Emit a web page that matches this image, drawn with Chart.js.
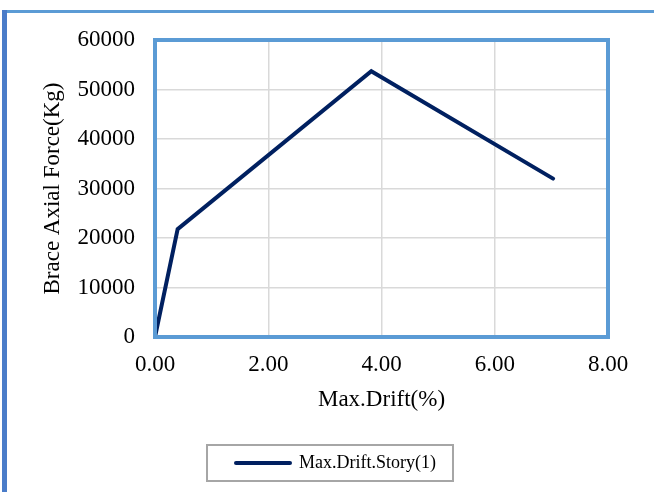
<!DOCTYPE html>
<html>
<head>
<meta charset="utf-8">
<script src="https://cdn.jsdelivr.net/npm/chart.js@4/dist/chart.umd.min.js"></script>
<style>
  html, body { margin: 0; padding: 0; background: #fff; }
  #wrap { position: relative; width: 654px; height: 492px; }
  #frame-left { position: absolute; left: 2px; top: 10px; width: 5px; height: 482px; background: #4a7cc9; }
  #frame-top { position: absolute; left: 7px; top: 10px; width: 647px; height: 3px; background: #5b9bd5; }
  canvas { position: absolute; left: 0; top: 0; }
</style>
</head>
<body>
<div id="wrap">
  <canvas id="chart" width="654" height="492"></canvas>
  <div id="frame-left"></div>
  <div id="frame-top"></div>
</div>
<script>
// datos
const driftPct   = [0, 0.40, 3.82, 7.03];
const axialForce = [0, 21800, 53700, 32000];
const seriesName = 'Max.Drift.Story(1)';
const xTicks = [0, 2, 4, 6, 8];
const yTicks = [0, 10000, 20000, 30000, 40000, 50000, 60000];

const FONT = 'Liberation Serif, Times New Roman, serif';
const NAVY = '#002060';
const BLUE = '#5b9bd5';

// borde azul alrededor del área de trazado y caja gris de la leyenda
const framePlugin = {
  id: 'frames',
  afterLayout(chart) {
    // desplazar la leyenda un poco a la derecha, como en el original
    chart.legend.left += 32;
    chart.legend.right += 32;
  },
  afterDraw(chart) {
    const { ctx, chartArea: a } = chart;
    ctx.save();
    ctx.strokeStyle = BLUE;
    ctx.lineWidth = 4;
    ctx.strokeRect(a.left, a.top, a.right - a.left, a.bottom - a.top);
    const hb = chart.legend.legendHitBoxes[0];
    if (hb) {
      ctx.strokeStyle = '#a6a6a6';
      ctx.lineWidth = 2;
      ctx.strokeRect(hb.left - 29, hb.top - 9, hb.width + 46, hb.height + 18);
    }
    ctx.restore();
  }
};

const ctx = document.getElementById('chart').getContext('2d');
new Chart(ctx, {
  type: 'line',
  data: {
    datasets: [{
      label: seriesName,
      data: driftPct.map((x, i) => ({ x, y: axialForce[i] })),
      borderColor: NAVY,
      backgroundColor: NAVY,
      borderWidth: 4,
      borderCapStyle: 'round',
      borderJoinStyle: 'miter',
      pointRadius: 0,
      tension: 0
    }]
  },
  options: {
    responsive: false,
    animation: false,
    layout: { padding: { top: 40, right: 46, left: 0, bottom: 10 } },
    plugins: {
      tooltip: { enabled: false },
      legend: {
        position: 'bottom',
        labels: {
          font: { family: FONT, size: 18 },
          color: '#000',
          usePointStyle: true,
          pointStyle: 'line',
          pointStyleWidth: 54,
          padding: 20,
          generateLabels(chart) {
            const items = Chart.defaults.plugins.legend.labels.generateLabels(chart);
            items.forEach(it => { it.lineCap = 'round'; it.lineWidth = 4; it.strokeStyle = NAVY; });
            return items;
          }
        }
      }
    },
    scales: {
      x: {
        type: 'linear',
        min: 0, max: 8,
        afterBuildTicks: s => { s.ticks = xTicks.map(v => ({ value: v })); },
        afterFit: s => { s.height = 97; },
        ticks: {
          font: { family: FONT, size: 23 }, color: '#000', padding: 14,
          callback: v => v.toFixed(2)
        },
        grid: { color: '#d9d9d9', lineWidth: 1.5, drawTicks: false },
        border: { display: false },
        title: {
          display: true, text: 'Max.Drift(%)', color: '#000',
          font: { family: FONT, size: 23 }, padding: { top: 4, bottom: 20 }
        }
      },
      y: {
        min: 0, max: 60000,
        afterBuildTicks: s => { s.ticks = yTicks.map(v => ({ value: v })); },
        afterFit: s => { s.width = 155; },
        ticks: {
          font: { family: FONT, size: 23 }, color: '#000', padding: 20,
          callback: v => String(v)
        },
        grid: { color: '#d9d9d9', lineWidth: 1.5, drawTicks: false },
        border: { display: false },
        title: {
          display: true, text: 'Brace Axial Force(Kg)', color: '#000',
          font: { family: FONT, size: 23 }, padding: { top: 39, bottom: 0 }
        }
      }
    }
  },
  plugins: [framePlugin]
});
</script>
</body>
</html>
